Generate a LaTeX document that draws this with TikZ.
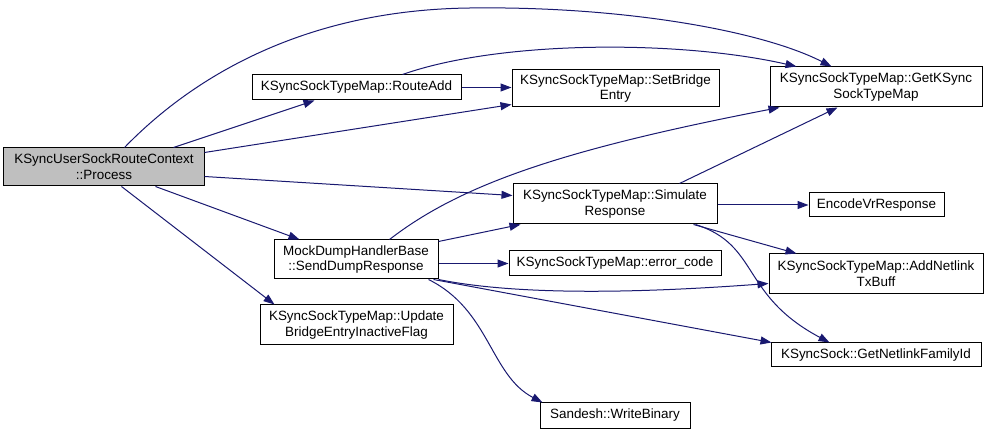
\documentclass[tikz,border=0pt]{standalone}
\usepackage{fontspec}
\setmainfont{Liberation Sans}
\usetikzlibrary{arrows.meta,calc}
\definecolor{edgeblue}{HTML}{191970}
\definecolor{procgray}{HTML}{BFBFBF}
\begin{document}
\begin{tikzpicture}[x=1bp,y=-1bp,
  fn/.style={draw=black,line width=1bp,fill=white,inner sep=0pt,align=center,
    font=\fontsize{13.5}{16}\selectfont},
  edge/.style={draw=edgeblue,line width=1bp,-{Triangle[length=11bp,width=8bp]},fill=none},
]
\useasboundingbox (0,0) rectangle (989,434);
% nodes
\node[fn,fill=procgray,minimum width=200bp,minimum height=38bp] (P) at (104,167) {KSyncUserSockRouteContext\\::Process};
\node[fn,minimum width=209bp,minimum height=25bp] (RA) at (356.5,87.5) {KSyncSockTypeMap::RouteAdd};
\node[fn,minimum width=207bp,minimum height=37bp] (SB) at (615.5,88.5) {KSyncSockTypeMap::SetBridge\\Entry};
\node[fn,minimum width=212bp,minimum height=40bp] (GK) at (876,87) {KSyncSockTypeMap::GetKSync\\SockTypeMap};
\node[fn,minimum width=204bp,minimum height=40bp] (SR) at (615,204) {KSyncSockTypeMap::Simulate\\Response};
\node[fn,minimum width=164bp,minimum height=39bp] (SD) at (356,259.5) {MockDumpHandlerBase\\::SendDumpResponse};
\node[fn,minimum width=212bp,minimum height=25bp] (EC) at (615,263.5) {KSyncSockTypeMap::error\_code};
\node[fn,minimum width=193bp,minimum height=40bp] (UP) at (356.5,325) {KSyncSockTypeMap::Update\\BridgeEntryInactiveFlag};
\node[fn,minimum width=135bp,minimum height=24bp] (EN) at (876.5,205) {EncodeVrResponse};
\node[fn,minimum width=214bp,minimum height=40bp] (AN) at (876,274) {KSyncSockTypeMap::AddNetlink\\TxBuff};
\node[fn,minimum width=210bp,minimum height=24bp] (GN) at (876,355) {KSyncSock::GetNetlinkFamilyId};
\node[fn,minimum width=150bp,minimum height=25bp] (WB) at (615,415.5) {Sandesh::WriteBinary};
% edges
\draw[edge] ($(P.north west)+(121,0)$) .. controls (190,80) and (300,10) .. (470,8)
  .. controls (620,6) and (760,30) .. ($(GK.north west)+(62,0)$);
\draw[edge] ($(RA.north west)+(151,0)$) .. controls (500,40) and (680,40) .. ($(GK.north west)+(27,0)$);
\draw[edge] ($(P.north west)+(170,0)$) -- ($(RA.south west)+(63,0)$);
\draw[edge] (RA.east) -- (RA.east -| SB.west);
\draw[edge] ($(P.north east)+(0,5)$) -- ($(SB.north west)+(0,35)$);
\draw[edge] ($(P.north east)+(0,29)$) -- ($(SR.north west)+(0,12)$);
\draw[edge] ($(P.south west)+(152,0)$) -- ($(SD.north west)+(26,0)$);
\draw[edge] ($(P.south west)+(118,0)$) -- ($(UP.north west)+(15,0)$);
\draw[edge] ($(SD.north west)+(116,0)$) .. controls (460,185) and (560,150) .. ($(GK.south west)+(10,0)$);
\draw[edge] ($(SR.north west)+(167,0)$) -- ($(GK.south west)+(68,0)$);
\draw[edge] ($(SD.north east)+(0,2)$) -- ($(SR.south west)+(8,0)$);
\draw[edge] (SD.east |- EC.west) -- (EC.west);
\draw[edge] (SD.south east) .. controls (500,292) and (600,296) .. ($(AN.north west)+(0,30)$);
\draw[edge] ($(SD.south east)+(-5,0)$) -- ($(GN.north west)+(1,0)$);
\draw[edge] ($(SD.south east)+(-10,0)$) .. controls (490,310) and (490,375) .. ($(WB.north west)+(3,0)$);
\draw[edge] (SR.east |- EN.west) -- (EN.west);
\draw[edge] ($(SR.south east)+(-24,0)$) -- ($(AN.north west)+(28,0)$);
\draw[edge] ($(SR.south east)+(-22,0)$) .. controls (760,245) and (740,295) .. ($(GN.north west)+(59,0)$);
\end{tikzpicture}
\end{document}
